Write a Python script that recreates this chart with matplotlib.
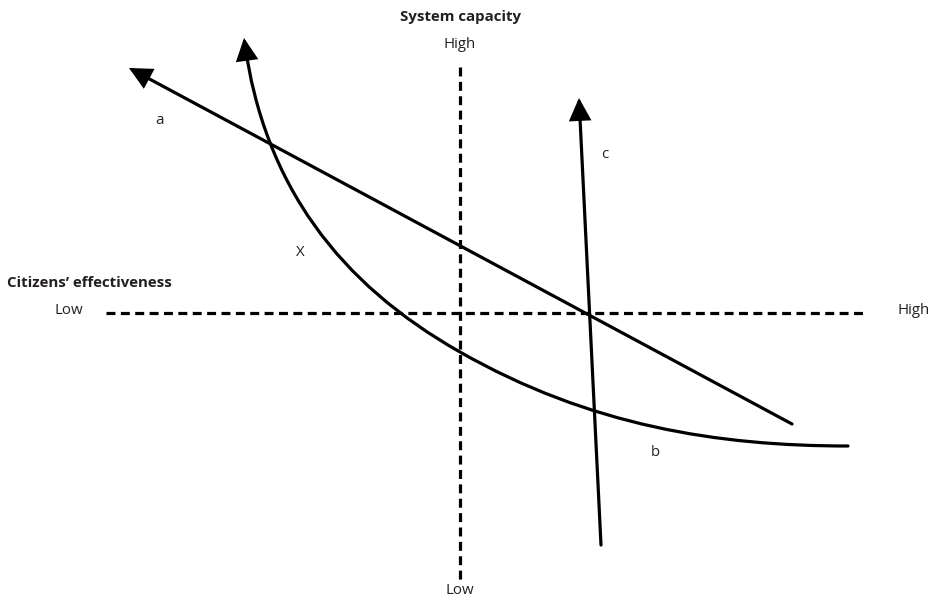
import matplotlib
matplotlib.use("Agg")
import matplotlib.pyplot as plt
from matplotlib.patches import FancyArrowPatch
from matplotlib.path import Path

plt.rcParams['font.family'] = ['Open Sans', 'DejaVu Sans']

# Diagram coordinate space (x to the right, y downward)
W, H = 936, 603

# Quadrant axes (dashed)
h_axis_x = [106, 866]
h_axis_y = 313
v_axis_x = 460
v_axis_y = [67, 581]

# Line a (arrow at upper-left end): [tail, tip]
line_a = [(792, 424), (129, 68)]
# Line c (arrow at top): [tail, tip]
line_c = [(601, 545), (579, 98)]
# Curve b / X: cubic Bezier segments (tail at lower right, arrow at top)
curve_b_pts = [(848, 446), (718, 446), (590, 426), (460, 352),
               (340, 284), (264, 186), (244, 38)]

# Texts
title_top = "System capacity"
title_left = "Citizens\u2019 effectiveness"
labels = {"a": (160, 120), "c": (605, 155), "X": (300, 253), "b": (655, 452)}
axis_labels = {"High_top": ("High", 460, 45), "Low_bottom": ("Low", 460, 590),
               "Low_left": ("Low", 69, 311), "High_right": ("High", 914, 311)}

fig = plt.figure(figsize=(W / 100, H / 100), dpi=100)
ax = fig.add_axes([0, 0, 1, 1])
ax.set_xlim(0, W)
ax.set_ylim(H, 0)
ax.axis('off')

lw = 2.3
dash = (0, (2.8, 1.7))
ax.plot(h_axis_x, [h_axis_y, h_axis_y], color='black', lw=lw, linestyle=dash,
        dash_capstyle='butt')
ax.plot([v_axis_x, v_axis_x], v_axis_y, color='black', lw=lw, linestyle=dash,
        dash_capstyle='butt')

arrowstyle = "-|>,head_length=0.85,head_width=0.42"
for seg in (line_a, line_c):
    arr = FancyArrowPatch(seg[0], seg[1], arrowstyle=arrowstyle,
                          mutation_scale=15, color='black', lw=lw,
                          shrinkA=0, shrinkB=0, capstyle='round',
                          joinstyle='miter')
    ax.add_patch(arr)

codes = [Path.MOVETO] + [Path.CURVE4] * (len(curve_b_pts) - 1)
path = Path(curve_b_pts, codes)
arr = FancyArrowPatch(path=path, arrowstyle=arrowstyle, mutation_scale=15,
                      color='black', lw=lw, shrinkA=0, shrinkB=0,
                      capstyle='round', joinstyle='miter')
ax.add_patch(arr)

txt_color = '#231f20'
fs = 10.8
ax.text(460, 17, title_top, ha='center', va='center', fontsize=fs,
        fontweight='bold', color=txt_color)
ax.text(7, 283, title_left, ha='left', va='center', fontsize=fs,
        fontweight='bold', color=txt_color)
for key, (t, x, y) in axis_labels.items():
    ax.text(x, y, t, ha='center', va='center', fontsize=fs, color=txt_color)
for t, (x, y) in labels.items():
    ax.text(x, y, t, ha='center', va='center', fontsize=fs, color=txt_color)

fig.savefig('out.png', dpi=100)
